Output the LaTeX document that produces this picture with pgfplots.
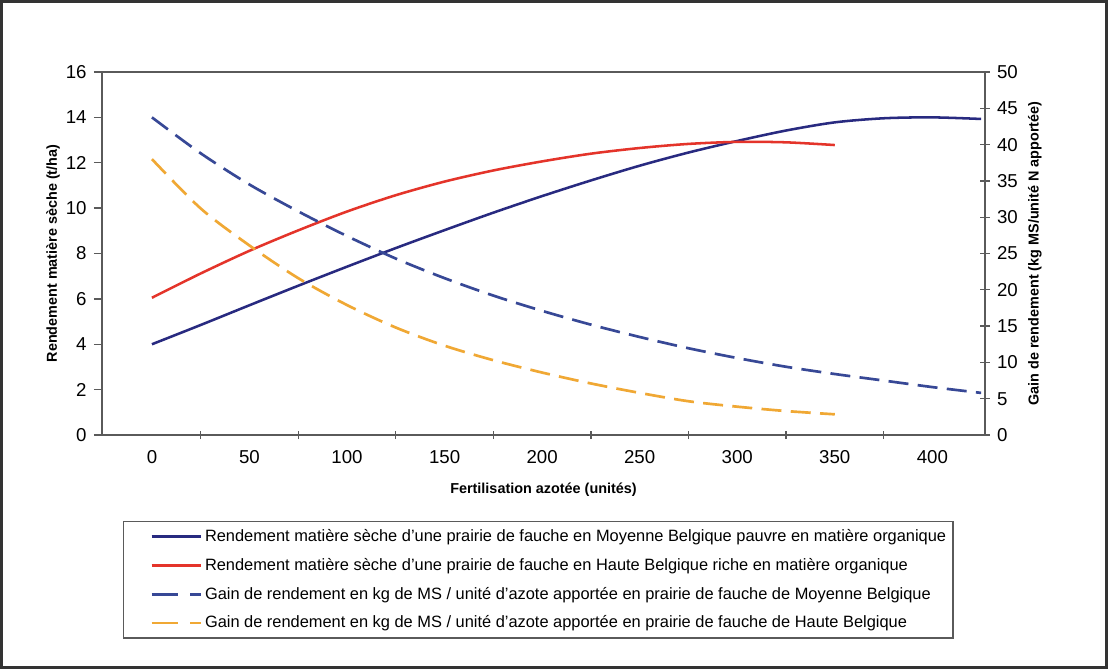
\documentclass[border=0pt]{standalone}
\usepackage{fontspec}
\setmainfont{Liberation Sans}
\usepackage{pgfplots}
\pgfplotsset{compat=1.18}
\definecolor{navy}{RGB}{40,42,128}
\definecolor{redc}{RGB}{228,52,42}
\definecolor{bluedash}{RGB}{55,72,150}
\definecolor{orangedash}{RGB}{240,168,52}
\definecolor{axgray}{RGB}{90,90,90}

\pgfplotstableread{
x y
0 4.0
25 4.85
50 5.72
75 6.58
100 7.42
125 8.24
150 9.03
175 9.8
200 10.53
225 11.22
250 11.87
275 12.45
300 12.96
325 13.42
350 13.78
375 13.96
400 14.0
425 13.93
}\moyrend
\pgfplotstableread{
x y
0 6.05
25 7.12
50 8.12
75 9.02
100 9.85
125 10.57
150 11.17
175 11.66
200 12.06
225 12.4
250 12.65
275 12.83
300 12.92
325 12.9
350 12.78
}\hautrend
\pgfplotstableread{
x y
0 43.75
25 38.8
50 34.5
75 30.8
100 27.4
125 24.3
150 21.6
175 19.2
200 17.1
225 15.2
250 13.5
275 11.95
300 10.6
325 9.4
350 8.4
375 7.5
400 6.6
425 5.8
}\moygain
\pgfplotstableread{
x y
0 38.0
25 31.2
50 26.1
75 21.6
100 17.9
125 14.8
150 12.3
175 10.3
200 8.6
225 7.1
250 5.8
275 4.65
300 3.9
325 3.3
350 2.85
}\hautgain

\begin{document}
\begin{tikzpicture}[x=1pt,y=1pt]
\useasboundingbox (0,0) rectangle (831,501.75);
\fill[white] (0,0) rectangle (831,501.75);
\draw[line width=2.2pt, black!80] (1.1,1.1) rectangle (829.9,500.65);
\pgfplotsset{
  common/.style={
    scale only axis,
    width=662.25pt, height=272.25pt,
    at={(76.5pt,175.5pt)}, anchor=south west,
    xmin=-25.6, xmax=427,
    axis line style={axgray, line width=1pt},
    tick style={axgray, line width=1pt},
    tick label style={font=\fontsize{14}{16}\selectfont},
    /pgf/number format/assume math mode=true,
    label style={font=\fontsize{10.8}{12}\selectfont\bfseries},
  },
}
\begin{axis}[
  common,
  ymin=0, ymax=16,
  ytick={0,2,...,16},
  xtick={25,75,...,375},
  xticklabels={},
  tick align=outside,
  major tick length=6pt,
  x tick style={yshift=3pt},
  extra x ticks={0,50,...,400},
  extra x tick style={major tick length=0pt},
  xtick pos=bottom,
  ytick pos=left,
  xticklabel style={yshift=-8pt},
  yticklabel style={xshift=-2pt},
  xlabel={Fertilisation azotée (unités)},
  xlabel style={at={(axis description cs:0.5,-0.1515)}, anchor=center},
  ylabel={Rendement matière sèche (t/ha)},
  ylabel style={at={(axis description cs:-0.0555,0.5)}, anchor=center},
  legend style={at={(axis description cs:0.0238,-0.2369)}, anchor=north west,
    draw=axgray, line width=1pt, font=\fontsize{12.3}{14}\selectfont,
    legend cell align=left, row sep=7pt, inner xsep=3pt, inner ysep=4pt},
  legend image code/.code={\path (0pt,0pt); \draw[#1] (17pt,0pt) -- (54pt,0pt);},
]
\addplot[navy, line width=1.9pt, smooth] table[x=x,y=y] {\moyrend};
\addlegendentry{Rendement matière sèche d'une prairie de fauche en Moyenne Belgique pauvre en matière organique}
\addplot[redc, line width=1.9pt, smooth] table[x=x,y=y] {\hautrend};
\addlegendentry{Rendement matière sèche d'une prairie de fauche en Haute Belgique riche en matière organique}
\addlegendimage{bluedash, line width=2pt, dash pattern=on 20pt off 9pt on 8pt off 9pt}
\addlegendentry{Gain de rendement en kg de MS / unité d'azote apportée en prairie de fauche de Moyenne Belgique}
\addlegendimage{orangedash, line width=2pt, dash pattern=on 20pt off 9pt on 8pt off 9pt}
\addlegendentry{Gain de rendement en kg de MS / unité d'azote apportée en prairie de fauche de Haute Belgique}
\end{axis}
\begin{axis}[
  common,
  ymin=0, ymax=50,
  ytick={0,5,...,50},
  axis x line=none,
  axis y line*=right,
  tick align=center,
  major tick length=7pt,
  yticklabel style={xshift=2pt},
  ylabel={Gain de rendement (kg MS/unité N apportée)},
  ylabel style={at={(axis description cs:1.0566,0.5)}, anchor=center},
]
\addplot[bluedash, line width=2pt, smooth, dash pattern=on 15pt off 7pt] table[x=x,y=y] {\moygain};
\addplot[orangedash, line width=2pt, smooth, dash pattern=on 15pt off 7pt] table[x=x,y=y] {\hautgain};
\end{axis}
\end{tikzpicture}
\end{document}
